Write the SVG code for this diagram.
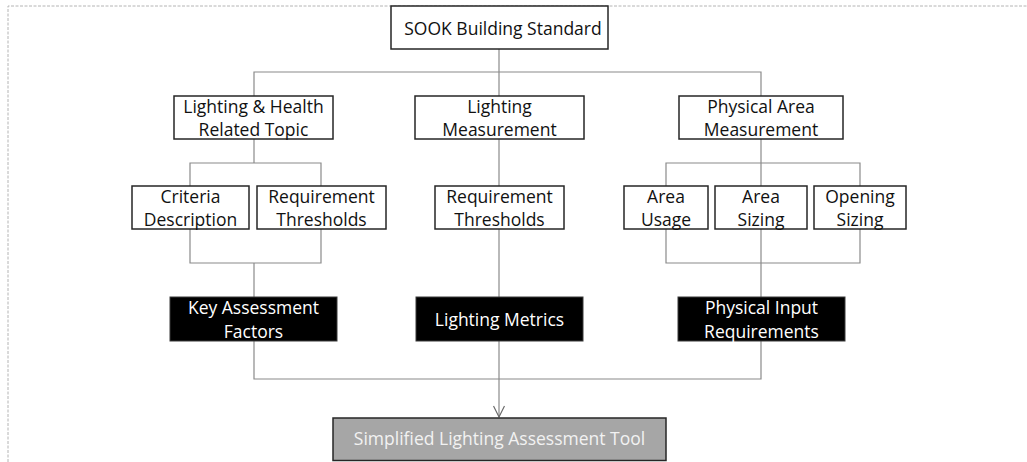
<svg xmlns="http://www.w3.org/2000/svg" width="1027" height="462" viewBox="0 0 1027 462">
  <style>
    .frame { fill: none; stroke: #b4b4b4; stroke-width: 1; stroke-dasharray: 3 1.5; }
    .box { fill: #ffffff; stroke: #262626; stroke-width: 1.5; }
    .dark { fill: #000000; stroke: #3a3a3a; stroke-width: 1; }
    .tool { fill: #a6a6a6; stroke: #262626; stroke-width: 1.5; }
    .t { font-family: "Open Sans", "Noto Sans", sans-serif; font-size: 17.5px; text-anchor: middle; fill: #111111; }
    .tw { fill: #ffffff; }
    .tg { fill: #f2f2f2; }
    .link { fill: none; stroke: #8a8a8a; stroke-width: 1.2; }
  </style>
  <defs>
    <marker id="open-arrow" markerWidth="14" markerHeight="12" refX="12" refY="6" orient="auto" markerUnits="userSpaceOnUse">
      <path d="M1,0.5 L12,6 L1,11.5" fill="none" stroke="#6a6a6a" stroke-width="1.2"/>
    </marker>
  </defs>

  <rect width="1027" height="462" fill="#ffffff"/>
  <path class="frame" d="M8,462 V6 H1027"/>

  <g id="connectors">
    <!-- root to second level -->
    <path class="link" d="M499,49 V96"/>
    <path class="link" d="M254,96 V72 H761 V96"/>
    <!-- left branch -->
    <path class="link" d="M254,139 V163"/>
    <path class="link" d="M190,186 V163 H321 V186"/>
    <path class="link" d="M190,229 V263 H321 V229"/>
    <path class="link" d="M254,263 V297"/>
    <!-- middle branch -->
    <path class="link" d="M499,139 V186"/>
    <path class="link" d="M499,229 V297"/>
    <!-- right branch -->
    <path class="link" d="M761,139 V186"/>
    <path class="link" d="M666,186 V163 H860 V186"/>
    <path class="link" d="M666,229 V263 H860 V229"/>
    <path class="link" d="M761,229 V297"/>
    <!-- merge into the tool -->
    <path class="link" d="M254,341 V379 H761 V341"/>
    <path class="link" d="M499,341 V417" marker-end="url(#open-arrow)"/>
  </g>

  <g id="sook-standard">
    <rect class="box" x="391" y="6" width="217" height="43"/>
    <text class="t" x="503" y="35">SOOK Building Standard</text>
  </g>

  <g id="lighting-health">
    <rect class="box" x="174" y="96" width="159" height="43"/>
    <text class="t" x="253.5" y="112.5">Lighting &amp; Health</text>
    <text class="t" x="253.5" y="135.5">Related Topic</text>
  </g>
  <g id="lighting-measurement">
    <rect class="box" x="415" y="96" width="169" height="43"/>
    <text class="t" x="499.5" y="112.5">Lighting</text>
    <text class="t" x="499.5" y="135.5">Measurement</text>
  </g>
  <g id="physical-area">
    <rect class="box" x="679" y="96" width="164" height="43"/>
    <text class="t" x="761" y="112.5">Physical Area</text>
    <text class="t" x="761" y="135.5">Measurement</text>
  </g>

  <g id="criteria-description">
    <rect class="box" x="132" y="186" width="117" height="43"/>
    <text class="t" x="190.5" y="202.5">Criteria</text>
    <text class="t" x="190.5" y="225.5">Description</text>
  </g>
  <g id="requirement-thresholds-left">
    <rect class="box" x="257" y="186" width="129" height="43"/>
    <text class="t" x="321.5" y="202.5">Requirement</text>
    <text class="t" x="321.5" y="225.5">Thresholds</text>
  </g>
  <g id="requirement-thresholds-mid">
    <rect class="box" x="435" y="186" width="129" height="43"/>
    <text class="t" x="499.5" y="202.5">Requirement</text>
    <text class="t" x="499.5" y="225.5">Thresholds</text>
  </g>
  <g id="area-usage">
    <rect class="box" x="624" y="186" width="84" height="43"/>
    <text class="t" x="666" y="202.5">Area</text>
    <text class="t" x="666" y="225.5">Usage</text>
  </g>
  <g id="area-sizing">
    <rect class="box" x="715" y="186" width="92" height="43"/>
    <text class="t" x="761" y="202.5">Area</text>
    <text class="t" x="761" y="225.5">Sizing</text>
  </g>
  <g id="opening-sizing">
    <rect class="box" x="814" y="186" width="92" height="43"/>
    <text class="t" x="860" y="202.5">Opening</text>
    <text class="t" x="860" y="225.5">Sizing</text>
  </g>

  <g id="key-assessment-factors">
    <rect class="dark" x="170" y="297" width="167" height="44"/>
    <text class="t tw" x="253.5" y="314">Key Assessment</text>
    <text class="t tw" x="253.5" y="337.5">Factors</text>
  </g>
  <g id="lighting-metrics">
    <rect class="dark" x="416" y="297" width="167" height="44"/>
    <text class="t tw" x="499.5" y="325.5">Lighting Metrics</text>
  </g>
  <g id="physical-input">
    <rect class="dark" x="678" y="297" width="167" height="44"/>
    <text class="t tw" x="761.5" y="314">Physical Input</text>
    <text class="t tw" x="761.5" y="337.5">Requirements</text>
  </g>

  <g id="assessment-tool">
    <rect class="tool" x="333" y="418" width="333" height="42.5"/>
    <text class="t tg" x="499.5" y="445">Simplified Lighting Assessment Tool</text>
  </g>
</svg>
